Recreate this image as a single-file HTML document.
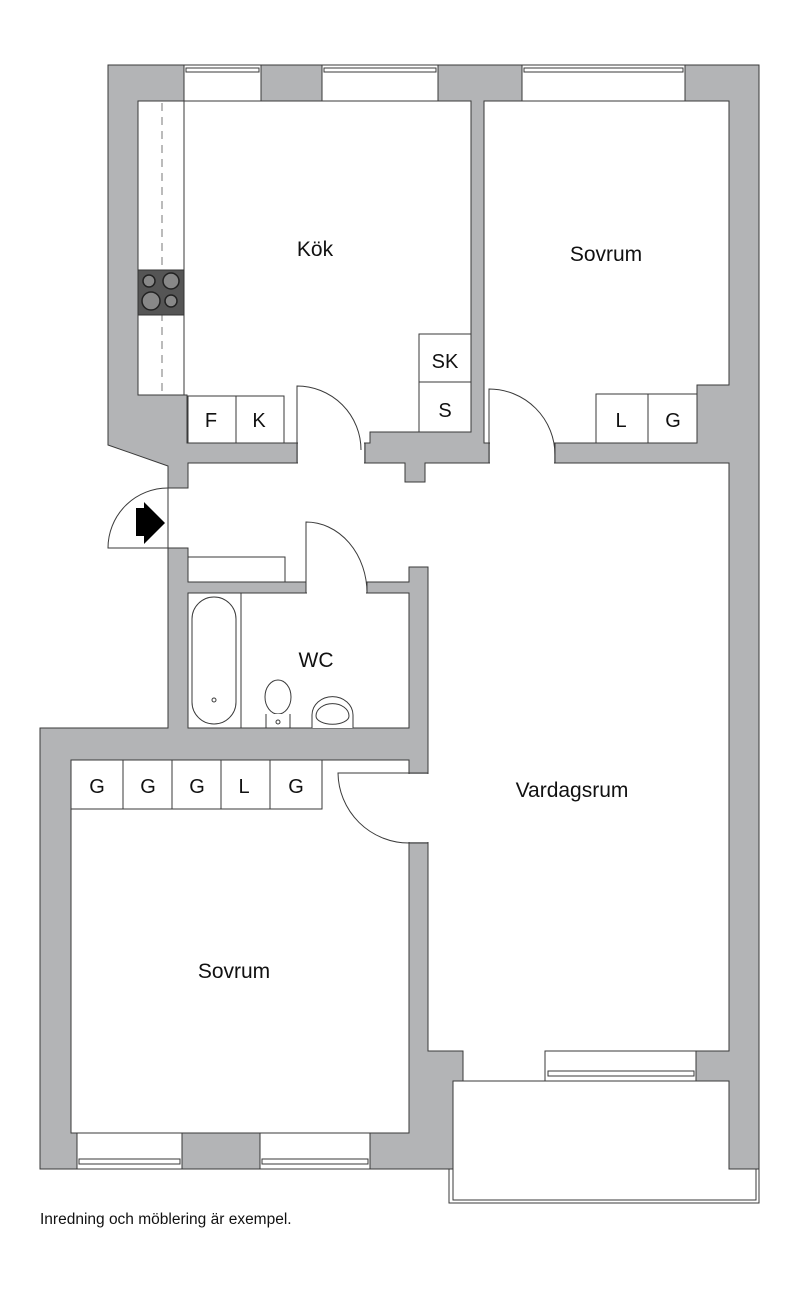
<!DOCTYPE html>
<html><head><meta charset="utf-8"><style>
html,body{margin:0;padding:0;background:#fff;width:800px;height:1292px;overflow:hidden}
svg{display:block}
text{font-family:"Liberation Sans",Arial,sans-serif;fill:#111}
</style></head><body>
<svg width="800" height="1292" viewBox="0 0 800 1292" xmlns="http://www.w3.org/2000/svg">
<g stroke="#3a3a3a" stroke-width="1">
<polygon fill="#b3b4b6" points="108,65 759,65 759,1169 729,1169 729,1081 453,1081 453,1169 40,1169 40,728 168,728 168,466 108,445"/>
<polygon fill="none" points="449,1169 449,1203 759,1203 759,1169"/>
<polygon fill="#fff" points="453,1081 729,1081 729,1169 756,1169 756,1200 453,1200"/>
<polygon fill="#fff" points="138,101 471,101 471,432 370,432 370,443 297,443 187,443 187,395 138,395"/>
<polygon fill="#fff" points="484,101 729,101 729,385 697,385 697,443 555,443 489,443 484,443"/>
<polygon fill="#fff" points="188,463 405,463 405,482 425,482 425,463 729,463 729,1051 545,1051 545,1081 463,1081 463,1051 428,1051 428,567 409,567 409,582 367,582 367,593 306,593 306,582 188,582 188,548 168,548 168,488 188,488"/>
<rect fill="#fff" x="188" y="593" width="221" height="135"/>
<polygon fill="#fff" points="71,760 409,760 409,1133 71,1133"/>
</g>
<g fill="#fff">
<rect x="298" y="432" width="66" height="32"/>
<rect x="490" y="442" width="64" height="22"/>
<rect x="307" y="580" width="59" height="14"/>
<rect x="408" y="774" width="21" height="68"/>
<rect x="464" y="1050" width="80" height="32"/>
</g>
<g stroke="#3a3a3a" stroke-width="1" fill="none">
<line x1="297" y1="443" x2="297" y2="463"/><line x1="297" y1="463" x2="188" y2="463"/>
<line x1="365" y1="443" x2="365" y2="463"/><line x1="365" y1="463" x2="405" y2="463"/>
<line x1="489" y1="443" x2="489" y2="463"/><line x1="555" y1="443" x2="555" y2="463"/>
<line x1="409" y1="760" x2="409" y2="773"/><line x1="409" y1="773" x2="428" y2="773"/>
<line x1="409" y1="843" x2="428" y2="843"/><line x1="428" y1="843" x2="428" y2="848"/>
<line x1="463" y1="1081" x2="545" y2="1081"/>
</g>
<g fill="#fff" stroke="#3a3a3a" stroke-width="1">
<rect x="184" y="65" width="77" height="36"/><rect x="322" y="65" width="116" height="36"/>
<rect x="522" y="65" width="163" height="36"/>
<rect x="77" y="1133" width="105" height="36"/><rect x="260" y="1133" width="110" height="36"/>
<rect x="545" y="1051" width="151" height="30"/>
</g>
<g stroke="#3a3a3a" stroke-width="1" fill="none">
<rect x="186" y="68" width="73" height="4"/><rect x="324" y="68" width="112" height="4"/><rect x="524" y="68" width="159" height="4"/>
<rect x="79" y="1159" width="101" height="5"/><rect x="262" y="1159" width="106" height="5"/>
<rect x="548" y="1071" width="146" height="5"/>
</g>
<g stroke="#3a3a3a" stroke-width="1" fill="none">
<path d="M297,450 L297,386 A64,64 0 0 1 361,450"/>
<path d="M489,455 L489,389 A66,66 0 0 1 555,455"/>
<path d="M306,593 L306,522 A61,71 0 0 1 367,593"/>
<path d="M409,773 L338,773 A71,71 0 0 0 409,843"/>
<path d="M168,548 L108,548 A60,60 0 0 1 168,488"/>
</g>
<polygon fill="#000" points="136,508 144,508 144,502 165,523 144,544 144,536 136,536"/>
<g stroke="#3a3a3a" stroke-width="1" fill="#fff">
<rect x="138" y="101" width="46" height="294"/>
</g>
<line x1="162" y1="103" x2="162" y2="393" stroke="#777" stroke-dasharray="8,6"/>
<rect x="138" y="270" width="46" height="45" fill="#555" stroke="#333"/>
<g fill="#888" stroke="#222" stroke-width="1.5">
<circle cx="149" cy="281" r="6"/><circle cx="171" cy="281" r="8"/>
<circle cx="151" cy="301" r="9"/><circle cx="171" cy="301" r="6"/>
</g>
<g stroke="#3a3a3a" stroke-width="1" fill="#fff">
<rect x="419" y="334" width="52" height="48"/><rect x="419" y="382" width="52" height="50"/>
<rect x="188" y="396" width="48" height="47"/><rect x="236" y="396" width="48" height="47"/>
<rect x="596" y="394" width="52" height="49"/><rect x="648" y="394" width="49" height="49"/>
<rect x="71" y="760" width="52" height="49"/><rect x="123" y="760" width="49" height="49"/>
<rect x="172" y="760" width="49" height="49"/><rect x="221" y="760" width="49" height="49"/>
<rect x="270" y="760" width="52" height="49"/>
<rect x="188" y="557" width="97" height="25"/>
</g>
<g stroke="#3a3a3a" stroke-width="1" fill="#fff">
<line x1="241" y1="593" x2="241" y2="728"/>
<rect x="192" y="597" width="44" height="127" rx="22"/>
<circle cx="214" cy="700" r="2"/>
<ellipse cx="278" cy="697" rx="13" ry="17"/>
<path d="M266,714 L266,728 L290,728 L290,714"/>
<circle cx="278" cy="722" r="2"/>
<path d="M312,728 L312,715 A20,18 0 0 1 353,715 L353,728"/>
<path d="M316,716 A16,12 0 0 1 349,716 A16,8 0 0 1 316,716"/>
</g>
<g font-size="21" text-anchor="middle">
<text x="315" y="256">Kök</text>
<text x="606" y="261">Sovrum</text>
<text x="316" y="667">WC</text>
<text x="572" y="797">Vardagsrum</text>
<text x="234" y="978">Sovrum</text>
</g>
<g font-size="20" text-anchor="middle">
<text x="445" y="368">SK</text>
<text x="445" y="417">S</text>
<text x="211" y="427">F</text>
<text x="259" y="427">K</text>
<text x="621" y="427">L</text>
<text x="673" y="427">G</text>
<text x="97" y="793">G</text>
<text x="148" y="793">G</text>
<text x="197" y="793">G</text>
<text x="244" y="793">L</text>
<text x="296" y="793">G</text>
</g>
<text x="40" y="1224" font-size="15.5">Inredning och möblering är exempel.</text>
</svg>
</body></html>
